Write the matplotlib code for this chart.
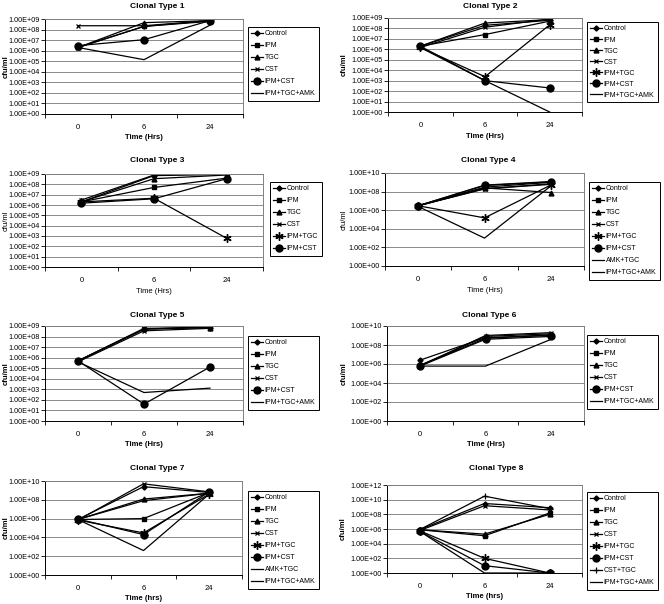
import matplotlib.pyplot as plt
from matplotlib.ticker import FixedLocator, FuncFormatter, NullFormatter

plt.rcParams['font.family'] = ['Liberation Sans', 'DejaVu Sans']

##############################
# data (cfu/ml)
##############################
times = ["0", "6", "24"]

ct1_names = ["Control", "IPM", "TGC", "CST", "IPM+CST", "IPM+TGC+AMK"]
ct1_values = [[2e6, 2e8, 6e8], [2e6, 2e8, 7e8], [2e6, 4.5e8, 7e8],
              [2.3e8, 2.3e8, 7e8], [3e6, 1.1e7, 7e8], [2e6, 1.4e5, 2.6e8]]

ct2_names = ["Control", "IPM", "TGC", "CST", "IPM+TGC", "IPM+CST", "IPM+TGC+AMK"]
ct2_values = [[2e6, 2e8, 6e8], [2e6, 2.6e7, 5e8], [2e6, 3.3e8, 7e8],
              [1.5e6, 1.3e8, 8e8], [1.5e6, 2.4e3, 2.2e8], [2e6, 1e3, 2e2],
              [1.5e6, 1e3, 1e0]]

ct3_names = ["Control", "IPM", "TGC", "CST", "IPM+TGC", "IPM+CST"]
ct3_values = [[2e6, 7e8, 9e8], [2e6, 5e7, 4e8], [2e6, 3.5e8, 8e8],
              [3e6, 8e8, 1.1e9], [2e6, 4.5e6, 6e2], [1.5e6, 4e6, 3.5e8]]

ct4_names = ["Control", "IPM", "TGC", "CST", "IPM+TGC", "IPM+CST",
             "AMK+TGC", "IPM+TGC+AMK"]
ct4_values = [[3e6, 3e8, 1e9], [3e6, 4.5e8, 1.1e9], [3e6, 2.5e8, 8e7],
              [3e6, 2e8, 7e8], [3e6, 1.5e5, 5e8], [3e6, 5e8, 1.2e9],
              [3e6, 2e8, 6e8], [2.5e6, 1e3, 4e8]]

ct5_names = ["Control", "IPM", "TGC", "CST", "IPM+CST", "IPM+TGC+AMK"]
ct5_values = [[5e5, 5e8, 7e8], [5e5, 5e8, 9e8], [5e5, 6e8, 7e8],
              [4e5, 3.5e8, 6e8], [5e5, 4e1, 1.3e5], [4e5, 5e2, 1.3e3]]

ct6_names = ["Control", "IPM", "TGC", "CST", "IPM+CST", "IPM+TGC+AMK"]
ct6_values = [[2.5e6, 6e8, 1e9], [7e5, 5e8, 1.2e9], [7e5, 8e8, 1.5e9],
              [6e5, 1e9, 2e9], [6e5, 4e8, 8e8], [6e5, 6e5, 4e8]]

ct7_names = ["Control", "IPM", "TGC", "CST", "IPM+TGC", "IPM+CST",
             "AMK+TGC", "IPM+TGC+AMK"]
ct7_values = [[8e5, 2.5e9, 6e8], [8e5, 1e6, 6e8], [8e5, 1.2e8, 5e8],
              [7e5, 5e9, 7e8], [7e5, 3e4, 4e8], [9e5, 2e4, 7e8],
              [8e5, 8e7, 5e8], [8e5, 4e2, 4e8]]

ct8_names = ["Control", "IPM", "TGC", "CST", "IPM+TGC", "IPM+CST",
             "CST+TGC", "IPM+TGC+AMK"]
ct8_values = [[8e5, 3e9, 8e8], [8e5, 1.2e5, 1.5e8], [8e5, 2e5, 1e8],
              [6e5, 1.5e9, 4e8], [6e5, 1e2, 1e0], [5e5, 1e1, 1e0],
              [8e5, 3e10, 6e8], [5e5, 1e0, 1e0]]

##############################
# styles / layout
##############################
W, H = 664, 604

styles = {
    "Control": dict(marker='D', ms=2.6),
    "IPM": dict(marker='s', ms=2.8),
    "TGC": dict(marker='^', ms=3.5),
    "CST": dict(marker='x', ms=3.5, mew=0.9),
    "IPM+TGC": dict(marker=(6, 2, 0), ms=6, mew=1.0),
    "IPM+CST": dict(marker='o', ms=5),
    "CST+TGC": dict(marker='+', ms=5, mew=0.9),
    "AMK+TGC": dict(marker='None'),
    "IPM+TGC+AMK": dict(marker='None'),
}

# title, names, values, ymax exponent, tick step, plot box px, legend top-left px,
# title xy, ylabel x, xlabel text, bold labels, legend spacing
panels = [
    ("Clonal Type 1", ct1_names, ct1_values, 9, 1, (45, 19, 243, 114), (248, 27), (157, 7), 3, "Time (Hrs)", True, 0.72),
    ("Clonal Type 2", ct2_names, ct2_values, 9, 1, (388, 18, 582, 112), (587, 22), (490, 7), 341, "Time (Hrs)", True, 0.58),
    ("Clonal Type 3", ct3_names, ct3_values, 9, 1, (45, 174, 263, 267), (270, 182), (157, 161), 3, "Time (Hrs)", False, 0.72),
    ("Clonal Type 4", ct4_names, ct4_values, 10, 2, (385, 173, 584, 266), (589, 182), (488, 161), 341, "Time (Hrs)", False, 0.72),
    ("Clonal Type 5", ct5_names, ct5_values, 9, 1, (45, 326, 243, 421), (248, 336), (157, 315), 3, "Time (Hrs)", True, 0.72),
    ("Clonal Type 6", ct6_names, ct6_values, 10, 2, (387, 326, 584, 421), (587, 335), (489, 315), 341, "Time (Hrs)", True, 0.72),
    ("Clonal Type 7", ct7_names, ct7_values, 10, 2, (45, 481, 242, 575), (248, 491), (157, 468), 3, "Time (hrs)", True, 0.72),
    ("Clonal Type 8", ct8_names, ct8_values, 12, 2, (387, 485, 582, 573), (587, 492), (496, 468), 340, "Time (hrs)", True, 0.72),
]

fig = plt.figure(figsize=(W / 100, H / 100), dpi=100)

def sci(v, pos):
    return "%.2E" % v

for (title, names, values, ymax, step, box, leg, txy, ylx, xlab, bold, lsp) in panels:
    x0, y0, x1, y1 = box
    ax = fig.add_axes([x0 / W, 1 - y1 / H, (x1 - x0) / W, (y1 - y0) / H])
    xs = list(range(len(times)))
    for name, vals in zip(names, values):
        ax.plot(xs, vals, color='black', lw=0.9, mfc='black', mec='black',
                label=name, **styles[name])
    ax.set_yscale('log')
    ax.set_ylim(1e0, 10.0 ** ymax)
    ticks = [10.0 ** e for e in range(0, ymax + 1, step)]
    ax.yaxis.set_major_locator(FixedLocator(ticks))
    ax.yaxis.set_major_formatter(FuncFormatter(sci))
    ax.yaxis.set_minor_locator(FixedLocator([]))
    ax.yaxis.set_minor_formatter(NullFormatter())
    ax.grid(axis='y', which='major', color='#8a8a8a', lw=0.7)
    ax.set_axisbelow(True)
    ax.set_xlim(-0.5, 2.5)
    ax.set_xticks(xs)
    ax.set_xticklabels(times)
    ax.set_xticks([-0.5, 0.5, 1.5, 2.5], minor=True)
    ax.tick_params(axis='x', which='major', length=0, pad=7, labelsize=5.5)
    ax.tick_params(axis='x', which='minor', length=3, width=0.6, direction='out')
    ax.tick_params(axis='y', which='major', length=3, width=0.6, pad=1, labelsize=5.2)
    for s in ['top', 'right']:
        ax.spines[s].set_color('#808080')
        ax.spines[s].set_linewidth(0.7)
    for s in ['left', 'bottom']:
        ax.spines[s].set_color('black')
        ax.spines[s].set_linewidth(0.7)
    w = 'bold' if bold else 'normal'
    fig.text(txy[0] / W, 1 - txy[1] / H, title, ha='center', va='center',
             fontsize=6, fontweight='bold')
    fig.text(ylx / W, 1 - (y0 + y1) / 2 / H, "cfu/ml", rotation=90,
             ha='left', va='center', fontsize=5.5, fontweight=w)
    fig.text((x0 + x1) / 2 / W, 1 - (y1 + 24) / H, xlab, ha='center', va='center',
             fontsize=5.5, fontweight=w)
    lg = ax.legend(loc='upper left', bbox_to_anchor=(leg[0] / W, 1 - leg[1] / H),
                   bbox_transform=fig.transFigure, borderaxespad=0, fontsize=5.0,
                   fancybox=False, edgecolor='black', framealpha=1,
                   labelspacing=lsp, handlelength=1.6, handletextpad=0.3,
                   borderpad=0.5, numpoints=1)
    lg.get_frame().set_linewidth(0.7)

fig.savefig("out.png", dpi=100)
